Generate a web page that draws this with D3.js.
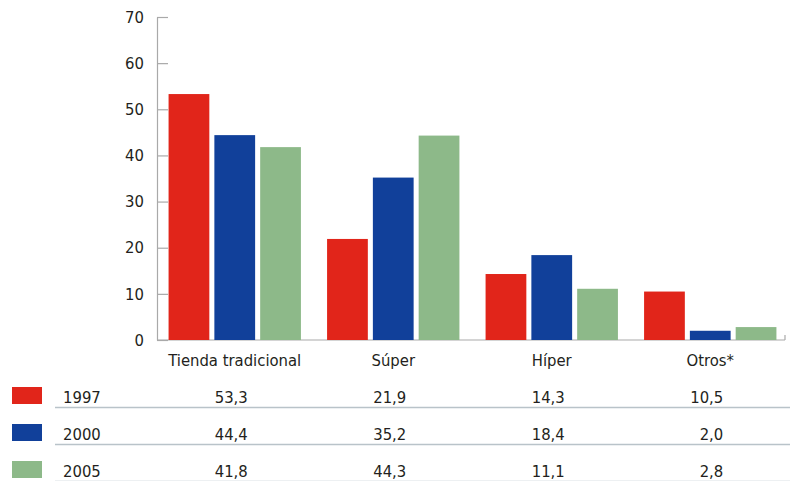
<!DOCTYPE html>
<html lang="es">
<head>
  <meta charset="UTF-8">
  <title>Cuota por formato</title>
  <script src="https://cdn.jsdelivr.net/npm/d3@7"></script>
  <style>
    body { margin: 0; background: #fff; }
    text { font-family: "Liberation Sans Narrow", "DejaVu Sans Condensed", sans-serif; fill: #231f20; }
  </style>
</head>
<body>
<script>
  // Data
  var categories = ["Tienda tradicional", "Súper", "Híper", "Otros*"];
  var years = ["1997", "2000", "2005"];
  var v1997 = [53.3, 21.9, 14.3, 10.5];
  var v2000 = [44.4, 35.2, 18.4, 2.0];
  var v2005 = [41.8, 44.3, 11.1, 2.8];
  var yTicks = [0, 10, 20, 30, 40, 50, 60, 70];

  var seriesValues = [v1997, v2000, v2005];
  var colors = ["#e1251a", "#11409a", "#8db989"];

  var w = 801, h = 481;
  var fontSize = 16.5;

  var svg = d3.select("body").append("svg")
    .attr("width", w)
    .attr("height", h);

  //Scales
  var xScale = d3.scaleBand()
    .domain(categories)
    .range([157, 788])
    .paddingInner(0.165)
    .paddingOuter(0.073);

  var xInner = d3.scaleBand()
    .domain(years)
    .range([0, xScale.bandwidth()])
    .paddingInner(0.11);

  var yScale = d3.scaleLinear()
    .domain([0, 70])
    .range([340, 17]);

  var locale = d3.formatLocale({ decimal: ",", thousands: ".", grouping: [3], currency: ["", "€"] });
  var fmt = locale.format(".1f");

  // Y axis, ticks pointing into the plot
  var yAxis = d3.axisLeft(yScale)
    .tickValues(yTicks)
    .tickSize(-11)
    .tickSizeOuter(0)
    .tickPadding(13)
    .tickFormat(d3.format("d"));

  var gy = svg.append("g")
    .attr("transform", "translate(157,0)")
    .call(yAxis);
  gy.select(".domain").attr("stroke", "#a9a9a9").attr("stroke-width", 1.2);
  gy.selectAll(".tick line").attr("stroke", "#a9a9a9").attr("stroke-width", 1.2);
  gy.selectAll(".tick text")
    .attr("font-size", fontSize)
    .style("font-family", "'Liberation Sans Narrow', 'DejaVu Sans Condensed', sans-serif")
    .attr("fill", "#231f20");

  // Baseline
  svg.append("line")
    .attr("x1", 157).attr("x2", 785)
    .attr("y1", yScale(0)).attr("y2", yScale(0))
    .attr("stroke", "#a9a9a9").attr("stroke-width", 1.2);
  svg.append("line")
    .attr("x1", 785).attr("x2", 785)
    .attr("y1", yScale(0)).attr("y2", yScale(0) - 5)
    .attr("stroke", "#a9a9a9").attr("stroke-width", 1.2);

  // Bars
  var rows = [];
  categories.forEach(function(c, i) {
    years.forEach(function(y, j) {
      rows.push({ cat: c, year: y, value: seriesValues[j][i], s: j });
    });
  });

  svg.selectAll("rect.bar")
    .data(rows)
    .enter()
    .append("rect")
    .attr("class", "bar")
    .attr("x", function(d) { return xScale(d.cat) + xInner(d.year); })
    .attr("y", function(d) { return yScale(d.value); })
    .attr("width", xInner.bandwidth())
    .attr("height", function(d) { return yScale(0) - yScale(d.value); })
    .attr("fill", function(d) { return colors[d.s]; });

  // Category labels
  svg.selectAll("text.cat")
    .data(categories)
    .enter()
    .append("text")
    .attr("class", "cat")
    .attr("x", function(d) { return xScale(d) + xScale.bandwidth() / 2; })
    .attr("y", 366)
    .attr("text-anchor", "middle")
    .attr("font-size", fontSize)
    .text(function(d) { return d; });

  // Table under the chart
  var rowY = d3.scaleOrdinal().domain(years).range([403, 440, 477]);

  var table = svg.selectAll("g.row")
    .data(years)
    .enter()
    .append("g")
    .attr("class", "row");

  table.append("rect")
    .attr("x", 12)
    .attr("y", function(d) { return rowY(d) - 16; })
    .attr("width", 30)
    .attr("height", 17)
    .attr("fill", function(d, i) { return colors[i]; });

  table.append("line")
    .attr("x1", 55).attr("x2", 790)
    .attr("y1", function(d) { return rowY(d) + 4.5; })
    .attr("y2", function(d) { return rowY(d) + 4.5; })
    .attr("stroke", "#b9c3c9")
    .attr("stroke-width", 1.5);

  table.append("text")
    .attr("x", 63)
    .attr("y", function(d) { return rowY(d); })
    .attr("font-size", fontSize)
    .text(function(d) { return d; });

  table.each(function(yr, j) {
    d3.select(this).selectAll("text.val")
      .data(seriesValues[j])
      .enter()
      .append("text")
      .attr("class", "val")
      .attr("x", function(d, i) { return xScale(categories[i]) + xScale.bandwidth() / 2 + 13; })
      .attr("y", rowY(yr))
      .attr("text-anchor", "end")
      .attr("font-size", fontSize)
      .text(function(d) { return fmt(d); });
  });
</script>
</body>
</html>
